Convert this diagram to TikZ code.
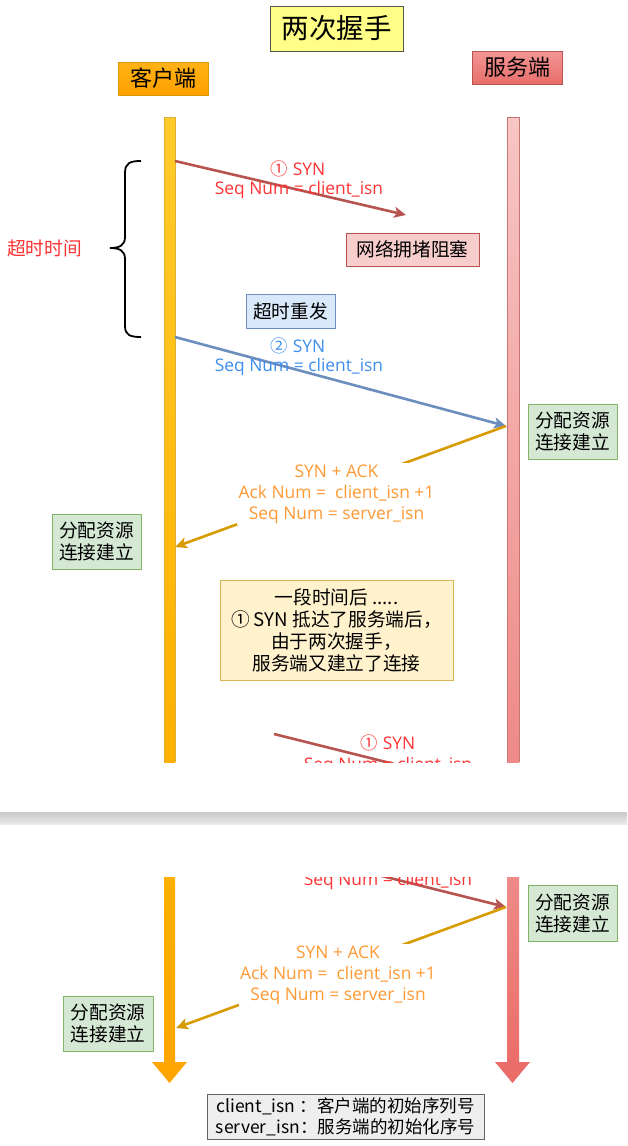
\documentclass[tikz,border=0pt]{standalone}
\usepackage{fontspec}
\setmainfont{Noto Sans CJK SC}
\newfontfamily\msgfont{Open Sans}
\newfontfamily\cjkfont{Noto Sans CJK SC}
\usetikzlibrary{arrows.meta}
\definecolor{synRed}{HTML}{B85450}
\definecolor{synBlue}{HTML}{6C8EBF}
\definecolor{ackGold}{HTML}{D79B00}
\definecolor{txtRed}{HTML}{FF3333}
\definecolor{txtBlue}{HTML}{3D8EF0}
\definecolor{txtOrange}{HTML}{FF9933}
\definecolor{greenFill}{HTML}{D5E8D4}
\definecolor{greenLine}{HTML}{82B366}
\definecolor{pinkFill}{HTML}{F8CECC}
\definecolor{blueFill}{HTML}{DAE8FC}
\definecolor{noteFill}{HTML}{FFF2CC}
\definecolor{noteLine}{HTML}{D6B656}
\definecolor{cliTop}{HTML}{FFCB2A}
\definecolor{cliMid}{HTML}{FFB000}
\definecolor{cliBot}{HTML}{FFA500}
\definecolor{srvTop}{HTML}{F7C6C5}
\definecolor{srvMid}{HTML}{EE8A88}
\definecolor{srvBot}{HTML}{EA6B66}
\newcommand\cnum[1]{{\cjkfont #1}}
\begin{document}
\begin{tikzpicture}[x=1pt,y=-1pt,
  box/.style={draw, line width=1pt, inner sep=0pt, align=center,
    font=\fontsize{18.7}{22}\selectfont},
  msg/.style={inner sep=0pt, align=center, font=\msgfont\fontsize{17.4}{21}\selectfont},
  arr/.style={line width=2.6pt, -{Stealth[length=12pt,width=11pt,inset=3pt]}},
  greenbox/.style={box, fill=greenFill, draw=greenLine, minimum width=89pt, minimum height=55pt}
]
\useasboundingbox (0,0) rectangle (627,1146);
\fill[white] (0,0) rectangle (627,1146);

% ---------------- title and actors
\node[box, fill={rgb,255:red,255;green,255;blue,136}, draw={rgb,255:red,85;green,85;blue,85},
  minimum width=133pt, minimum height=45pt, font=\fontsize{27.5}{30}\selectfont]
  (title) at (336.5,28.5) {两次握手};
\node[box, top color={rgb,255:red,255;green,178;blue,20}, bottom color={rgb,255:red,255;green,160;blue,0},
  draw=ackGold, minimum width=90pt, minimum height=33pt, font=\fontsize{22}{24}\selectfont]
  (client) at (163,78.5) {客户端};
\node[box, top color={rgb,255:red,242;green,150;blue,148}, bottom color={rgb,255:red,232;green,110;blue,106},
  draw=synRed, minimum width=90pt, minimum height=33pt, font=\fontsize{22}{24}\selectfont]
  (server) at (517,67.5) {服务端};

% ---------------- top frame
\begin{scope}
\clip (0,0) rectangle (627,762);
\shade[top color=cliTop, bottom color=cliMid] (164,117) rectangle (175,762);
\draw[ackGold!80, line width=0.8pt] (164,762) -- (164,117) -- (175,117) -- (175,762);
\shade[top color=srvTop, bottom color=srvMid] (507,117) rectangle (519,762);
\draw[synRed!80, line width=0.8pt] (507,762) -- (507,117) -- (519,117) -- (519,762);

% timeout brace
\draw[line width=1.8pt] (141,161) .. controls (130,161) and (125,163) .. (125,173)
  -- (125,237) .. controls (125,245) and (120,248) .. (110,248)
  .. controls (120,248) and (125,251) .. (125,259)
  -- (125,326) .. controls (125,335) and (130,337) .. (141,337);
\node[text=txtRed, inner sep=0pt, font=\fontsize{18.7}{22}\selectfont] (timeout) at (44.5,248) {超时时间};

% message 1 (lost)
\coordinate (m1s) at (175,161);
\coordinate (m1e) at (406,215);
\draw[arr, synRed] (m1s) -- (m1e);
\node[msg, text=txtRed] (m1a) at (298,169) {\cnum{①} SYN};
\node[msg, text=txtRed] (m1b) at (299,190) {Seq Num = client\_isn};
\node[box, fill=pinkFill, draw=synRed, minimum width=133pt, minimum height=33pt] (jam) at (412.5,249.5) {网络拥堵阻塞};

% retransmission
\node[box, fill=blueFill, draw=synBlue, minimum width=89pt, minimum height=34pt] (resend) at (290.5,311) {超时重发};
\coordinate (m2s) at (175,337);
\coordinate (m2e) at (506,426);
\draw[arr, synBlue] (m2s) -- (m2e);
\node[msg, text=txtBlue] (m2a) at (298,346) {\cnum{②} SYN};
\node[msg, text=txtBlue] (m2b) at (299,367) {Seq Num = client\_isn};
\node[greenbox] (srvok1) at (572.5,431.5) {分配资源\\连接建立};

% SYN + ACK
\coordinate (a1s) at (506,426);
\coordinate (a1e) at (175,547);
\draw[arr, ackGold] (a1s) -- (a1e);
\node[msg, text=txtOrange, fill=white, inner sep=1.5pt] (a1l) at (336.5,494)
  {SYN + ACK\\Ack Num = \ client\_isn +1\\Seq Num = server\_isn};
\node[greenbox] (cliok1) at (96.5,541.5) {分配资源\\连接建立};

% note
\node[box, fill=noteFill, draw=noteLine, minimum width=233pt, minimum height=100pt] (note) at (336.5,630)
  {一段时间后 .....\\① SYN 抵达了服务端后，\\由于两次握手，\\服务端又建立了连接};

% message 1 arrives late
\coordinate (m3s) at (274,734);
\coordinate (m3e) at (506,792);
\draw[arr, synRed] (m3s) -- (m3e);
\node[msg, text=txtRed] (m3a) at (388,743) {\cnum{①} SYN};
\node[msg, text=txtRed] (m3b) at (388,766) {Seq Num = client\_isn};
\end{scope}

% ---------------- separator band
\shade[top color={rgb,255:red,200;green,200;blue,200}, bottom color={rgb,255:red,234;green,234;blue,234}]
  (0,812) rectangle (627,824);

% ---------------- bottom frame
\shade[top color=cliMid, bottom color=cliBot] (164,877) -- (164,1062) -- (152,1062) -- (169.5,1083)
  -- (187,1062) -- (175,1062) -- (175,877) -- cycle;
\shade[top color=srvMid, bottom color=srvBot] (507,877) -- (507,1062) -- (495,1062) -- (512.5,1083)
  -- (530,1062) -- (519,1062) -- (519,877) -- cycle;

\begin{scope}
\clip (0,877) rectangle (627,1146);
\begin{scope}[shift={(0,115)}]
\coordinate (n3s) at (274,734);
\coordinate (n3e) at (506,792);
\draw[arr, synRed] (n3s) -- (n3e);
\node[msg, text=txtRed] (n3a) at (388,743) {\cnum{①} SYN};
\node[msg, text=txtRed] (n3b) at (388,766) {Seq Num = client\_isn};
\end{scope}
\end{scope}

\node[greenbox, minimum height=56pt] (srvok2) at (572.5,913) {分配资源\\连接建立};

\coordinate (a2s) at (506,907);
\coordinate (a2e) at (176,1028);
\draw[arr, ackGold] (a2s) -- (a2e);
\node[msg, text=txtOrange, fill=white, inner sep=1.5pt] (a2l) at (338,975)
  {SYN + ACK\\Ack Num = \ client\_isn +1\\Seq Num = server\_isn};
\node[greenbox, minimum width=90pt] (cliok2) at (108,1023.5) {分配资源\\连接建立};

\node[box, fill={rgb,255:red,238;green,238;blue,238}, draw={rgb,255:red,102;green,102;blue,102},
  minimum width=277pt, minimum height=45pt, font=\fontsize{17.5}{21}\selectfont] (legend) at (345.5,1116.5)
  {client\_isn ：客户端的初始序列号\\server\_isn：服务端的初始化序号};
\end{tikzpicture}
\end{document}
